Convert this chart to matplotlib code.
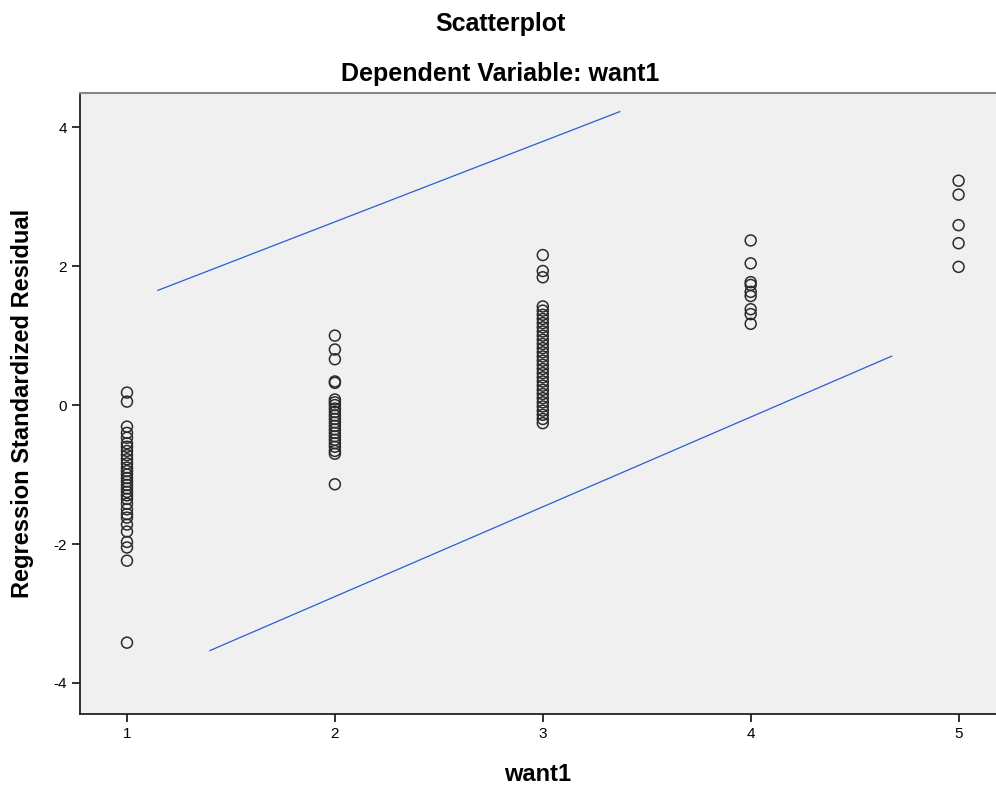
import matplotlib
matplotlib.use("Agg")
import matplotlib.pyplot as plt

plt.rcParams['font.family'] = ['Liberation Sans', 'DejaVu Sans']
plt.rcParams['axes.unicode_minus'] = False

# Dependent variable values and standardized residuals
col1_y = [0.18, 0.05, -0.31, -0.40, -0.47, -0.55, -0.60, -0.66, -0.72, -0.78, -0.84,
          -0.90, -0.95, -1.00, -1.05, -1.10, -1.15, -1.20, -1.25, -1.30, -1.35, -1.42,
          -1.50, -1.57, -1.62, -1.72, -1.82, -1.97, -2.05, -2.24, -3.42]
col2_y = [1.00, 0.80, 0.66, 0.34, 0.32, 0.08, 0.04, 0.00, -0.05, -0.10, -0.15, -0.20,
          -0.25, -0.30, -0.35, -0.40, -0.45, -0.50, -0.55, -0.60, -0.66, -0.70, -1.14]
col3_y = [2.16, 1.93, 1.84, 1.42, 1.36, 1.30, 1.24, 1.18, 1.12, 1.06, 1.00, 0.94, 0.88,
          0.82, 0.76, 0.70, 0.64, 0.58, 0.52, 0.46, 0.40, 0.34, 0.28, 0.22, 0.16, 0.10,
          0.04, -0.02, -0.08, -0.14, -0.20, -0.26]
col4_y = [2.37, 2.04, 1.77, 1.73, 1.63, 1.57, 1.38, 1.31, 1.17]
col5_y = [3.23, 3.03, 2.59, 2.33, 1.99]
want1_levels = [1, 2, 3, 4, 5]
residual_groups = [col1_y, col2_y, col3_y, col4_y, col5_y]

# Reference lines (endpoints in data units)
upper_x = [1.149, 3.370]
upper_y = [1.652, 4.224]
lower_x = [1.399, 4.678]
lower_y = [-3.534, 0.704]

xticks = [1, 2, 3, 4, 5]
yticks = [-4, -2, 0, 2, 4]

fig = plt.figure(figsize=(9.96, 7.90), dpi=100)
ax = fig.add_axes([80/996, 1 - 713.5/790, 1 - 80/996, (713.5 - 92.5)/790])
ax.set_facecolor('#F0F0F0')

for xv, ys in zip(want1_levels, residual_groups):
    ax.scatter([xv]*len(ys), ys, s=62, facecolors='none', edgecolors='#2b2b2b',
               linewidths=1.1, zorder=3)

ax.plot(upper_x, upper_y, color='#2a5fd0', lw=0.9, zorder=2)
ax.plot(lower_x, lower_y, color='#2a5fd0', lw=0.9, zorder=2)

ax.set_xlim(0.774, 5.18)
ax.set_ylim(-4.44, 4.50)
ax.set_xticks(xticks)
ax.set_yticks(yticks)
ax.tick_params(direction='out', length=6, width=1.3, labelsize=11, color='#222222')
ax.spines['right'].set_visible(False)
ax.spines['top'].set_color('#888888')
ax.spines['top'].set_linewidth(1.5)
for s in ['left', 'bottom']:
    ax.spines[s].set_linewidth(1.3)
    ax.spines[s].set_color('#222222')

ax.set_xlabel('want1', fontsize=17, fontweight='bold', labelpad=16)
ax.set_ylabel('Regression Standardized Residual', fontsize=17, fontweight='bold', labelpad=14)

fig.text(500/996, 1 - 24/790, 'Scatterplot', ha='center', va='center',
         fontsize=18, fontweight='bold')
fig.text(500/996, 1 - 74/790, 'Dependent Variable: want1', ha='center', va='center',
         fontsize=18, fontweight='bold')

fig.savefig('out.png', dpi=100)
